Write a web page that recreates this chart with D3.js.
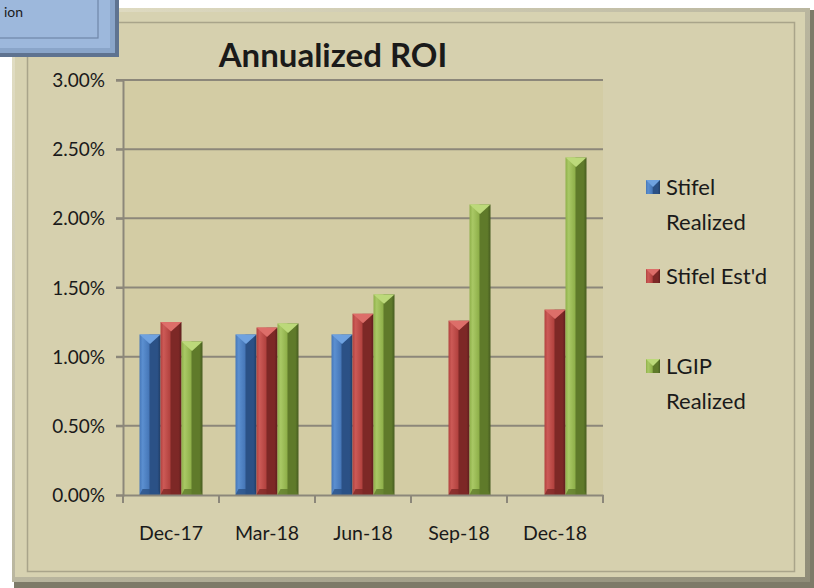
<!DOCTYPE html>
<html>
<head>
<meta charset="utf-8">
<script src="https://cdn.jsdelivr.net/npm/d3@7"></script>
<style>
  body { margin: 0; background: #fff; }
  svg { display: block; }
  text { font-family: Lato, "Open Sans", sans-serif; fill: #1a1a1a; }
</style>
</head>
<body>
<svg id="chart" width="814" height="588"></svg>
<script>
const width = 814;
const height = 588;

// data
const quarters = ["Dec-17", "Mar-18", "Jun-18", "Sep-18", "Dec-18"];
const seriesNames = ["Stifel Realized", "Stifel Est'd", "LGIP Realized"];
const stifelRealized = [1.16, 1.16, 1.16, null, null];
const stifelEstd = [1.25, 1.21, 1.31, 1.26, 1.34];
const lgipRealized = [1.11, 1.24, 1.45, 2.10, 2.44];
const yTicks = [0, 0.5, 1, 1.5, 2, 2.5, 3];

const seriesValues = [stifelRealized, stifelEstd, lgipRealized];
const colors = [
  {light: "#5b8fd0", mid: "#4677b8", dark: "#2b5186", top: "#6fa2e0"},
  {light: "#cc5a56", mid: "#b2423f", dark: "#7d2826", top: "#dd6e69"},
  {light: "#a9c865", mid: "#8fb04a", dark: "#5f7a2a", top: "#bcd97a"}
];

const svg = d3.select("#chart");
const defs = svg.append("defs");

// frame gradient
let bevel = defs.append("linearGradient").attr("id", "frameShade").attr("x1", 0).attr("y1", 0).attr("x2", 1).attr("y2", 1);
bevel.append("stop").attr("offset", "0%").attr("stop-color", "#e4e0c6");
bevel.append("stop").attr("offset", "100%").attr("stop-color", "#8f8c78");

colors.forEach(function(c, i){
  let g = defs.append("linearGradient").attr("id", "bar" + i).attr("x1", 0).attr("x2", 1).attr("y1", 0).attr("y2", 0);
  g.append("stop").attr("offset", "0%").attr("stop-color", c.mid);
  g.append("stop").attr("offset", "15%").attr("stop-color", c.light);
  g.append("stop").attr("offset", "45%").attr("stop-color", c.mid);
  g.append("stop").attr("offset", "50%").attr("stop-color", c.dark);
  g.append("stop").attr("offset", "85%").attr("stop-color", c.dark);
  g.append("stop").attr("offset", "100%").attr("stop-color", d3.color(c.dark).darker(0.8));
});

// outer frame (chart area)
svg.append("rect").attr("x", 14).attr("y", 10).attr("width", 800).attr("height", 578).attr("fill", "#7d7a68");
svg.append("rect").attr("x", 12).attr("y", 8).attr("width", 798).attr("height", 574).attr("fill", "url(#frameShade)");
svg.append("rect").attr("x", 15).attr("y", 12).attr("width", 790).attr("height", 565).attr("fill", "#d7d2b1");
svg.append("rect").attr("x", 27.5).attr("y", 22.5).attr("width", 767).attr("height", 549)
  .attr("fill", "#d6d0ae").attr("stroke", "#a9a48a").attr("stroke-width", 1.5);

// blue shape peeking in at top left
svg.append("rect").attr("x", 0).attr("y", 0).attr("width", 119).attr("height", 57).attr("fill", "#5f7390");
svg.append("rect").attr("x", 0).attr("y", 0).attr("width", 115).attr("height", 53).attr("fill", "#8aa5c9");
svg.append("rect").attr("x", 0).attr("y", 0).attr("width", 110).attr("height", 48).attr("fill", "#9db8dc");
svg.append("rect").attr("x", -2).attr("y", -2).attr("width", 100).attr("height", 40)
  .attr("fill", "none").attr("stroke", "#6e86a8").attr("stroke-width", 1.2);
svg.append("text").attr("x", 4).attr("y", 17).attr("font-size", 14).text("ion");

const margin = {left: 123, right: 603, top: 80, bottom: 495};

const x = d3.scaleBand().domain(quarters).range([margin.left, margin.right]).paddingInner(0).paddingOuter(0);
const xs = d3.scaleBand().domain(d3.range(3)).range([16.5, x.bandwidth() - 16.5]);
const y = d3.scaleLinear().domain([0, 3]).range([margin.bottom, margin.top]);

// plot area
svg.append("rect").attr("x", margin.left).attr("y", margin.top).attr("width", margin.right - margin.left)
  .attr("height", margin.bottom - margin.top).attr("fill", "#d3cca4");

// gridlines
svg.append("g").selectAll("line").data(yTicks.filter(d => d > 0)).enter().append("line")
  .attr("x1", margin.left - 7).attr("x2", margin.right)
  .attr("y1", d => y(d)).attr("y2", d => y(d))
  .attr("stroke", "#8c877a").attr("stroke-width", 2);

// y axis
const yAxis = svg.append("g").attr("transform", `translate(${margin.left},0)`)
  .call(d3.axisLeft(y).tickValues(yTicks).tickFormat(d => d3.format(".2f")(d) + "%").tickSize(7));
yAxis.select(".domain").attr("stroke", "#8c877a").attr("stroke-width", 2);
yAxis.selectAll(".tick line").attr("stroke", "#8c877a").attr("stroke-width", 2);
yAxis.selectAll("text").attr("font-size", 19).attr("font-family", "Lato, sans-serif").attr("fill", "#1a1a1a")
  .attr("dy", "0.35em").attr("x", -18);

// bars
seriesValues.forEach(function(vals, si){
  let g = svg.append("g");
  let data = quarters.map((q, i) => ({q: q, v: vals[i]})).filter(d => d.v != null);
  let bw = xs.bandwidth();
  g.selectAll("rect").data(data).enter().append("rect")
    .attr("x", d => x(d.q) + xs(si))
    .attr("y", d => y(d.v))
    .attr("width", bw)
    .attr("height", d => y(0) - y(d.v))
    .attr("fill", "url(#bar" + si + ")");
  // bevelled top
  g.selectAll("path.top").data(data).enter().append("path").attr("class", "top")
    .attr("d", function(d){
      let x0 = x(d.q) + xs(si), y0 = y(d.v);
      return `M${x0},${y0} L${x0 + bw},${y0} L${x0 + bw / 2},${y0 + bw * 0.45} Z`;
    })
    .attr("fill", colors[si].top);
  // bevelled bottom
  g.selectAll("path.bot").data(data).enter().append("path").attr("class", "bot")
    .attr("d", function(d){
      let x0 = x(d.q) + xs(si), y0 = y(0);
      return `M${x0},${y0} L${x0 + bw},${y0} L${x0 + bw - 3},${y0 - 6} L${x0 + 3},${y0 - 6} Z`;
    })
    .attr("fill", colors[si].dark).attr("opacity", 0.8);
});

// x axis
const xAxis = svg.append("g").attr("transform", `translate(0,${margin.bottom})`)
  .call(d3.axisBottom(x).tickSize(0).tickPadding(31));
xAxis.select(".domain").attr("stroke", "#8c877a").attr("stroke-width", 2);
xAxis.selectAll("text").attr("font-size", 19.5).attr("font-family", "Lato, sans-serif").attr("fill", "#1a1a1a");
svg.append("g").selectAll("line").data(quarters.concat(["end"])).enter().append("line")
  .attr("x1", (d, i) => margin.left + i * x.step()).attr("x2", (d, i) => margin.left + i * x.step())
  .attr("y1", margin.bottom).attr("y2", margin.bottom + 8)
  .attr("stroke", "#8c877a").attr("stroke-width", 2);

// title
svg.append("text").attr("x", 333).attr("y", 67).attr("text-anchor", "middle")
  .attr("font-size", 33).attr("font-weight", "bold").text("Annualized ROI");

// legend
const legendRows = [
  {lines: ["Stifel", "Realized"], y: 187},
  {lines: ["Stifel Est'd"], y: 276},
  {lines: ["LGIP", "Realized"], y: 366}
];
legendRows.forEach(function(r, i){
  let g = svg.append("g");
  g.append("rect").attr("x", 646).attr("y", r.y - 7).attr("width", 14).attr("height", 14).attr("fill", "url(#bar" + i + ")");
  g.append("path").attr("d", `M646,${r.y - 7} L660,${r.y - 7} L653,${r.y}Z`).attr("fill", colors[i].top);
  r.lines.forEach(function(t, j){
    g.append("text").attr("x", 666).attr("y", r.y + j * 35).attr("dy", "0.35em")
      .attr("font-size", 22).text(t);
  });
});
</script>
</body>
</html>
